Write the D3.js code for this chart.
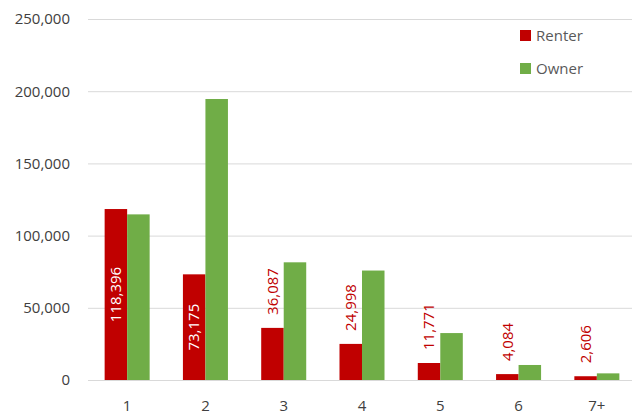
<!doctype html>
<html>
<head>
<meta charset="utf-8">
<style>
  body { margin: 0; background: #fff; }
  text { font-family: "Open Sans", "Liberation Sans", sans-serif; }
</style>
<script src="https://d3js.org/d3.v7.min.js"></script>
</head>
<body>
<div id="chart"></div>
<script>
var categories = ["1", "2", "3", "4", "5", "6", "7+"];
var series = ["Renter", "Owner"];
var renter = [118396, 73175, 36087, 24998, 11771, 4084, 2606];
var owner = [114700, 194600, 81500, 75800, 32500, 10400, 4600];
var yTicks = [0, 50000, 100000, 150000, 200000, 250000];
var colors = ["#c00000", "#70ad47"];

var width = 632, height = 419;
var svg = d3.select("#chart").append("svg")
  .attr("width", width)
  .attr("height", height);

var x = d3.scaleBand()
  .domain(categories)
  .range([88, 636])
  .paddingInner(0.425)
  .paddingOuter(0.2125);

var xs = d3.scaleBand()
  .domain(series)
  .range([0, x.bandwidth()]);

var y = d3.scaleLinear()
  .domain([0, 250000])
  .range([380, 19]);

// gridlines + y labels
var yAxis = svg.append("g")
  .attr("transform", "translate(88,0)")
  .call(d3.axisLeft(y).tickValues(yTicks).tickSize(-(width - 88)).tickPadding(18).tickFormat(d3.format(",")));
yAxis.select(".domain").remove();
yAxis.selectAll(".tick line").attr("stroke", "#d9d9d9");
yAxis.selectAll(".tick text")
  .attr("font-size", 15)
  .attr("fill", "#404040");

// x labels
var xAxis = svg.append("g")
  .attr("transform", "translate(0,380)")
  .call(d3.axisBottom(x).tickSize(0).tickPadding(20));
xAxis.select(".domain").remove();
xAxis.selectAll(".tick text")
  .attr("font-size", 15)
  .attr("fill", "#404040");

var rows = categories.map(function(c, i) {
  return { cat: c, values: [renter[i], owner[i]] };
});

var groups = svg.selectAll("g.cat")
  .data(rows)
  .enter().append("g")
  .attr("class", "cat")
  .attr("transform", function(d) { return "translate(" + x(d.cat) + ",0)"; });

groups.selectAll("rect")
  .data(function(d) { return d.values.map(function(v, j) { return { s: series[j], v: v, j: j }; }); })
  .enter().append("rect")
  .attr("x", function(d) { return xs(d.s); })
  .attr("y", function(d) { return y(d.v); })
  .attr("width", xs.bandwidth())
  .attr("height", function(d) { return 380 - y(d.v); })
  .attr("fill", function(d) { return colors[d.j]; });

// renter data labels, rotated
groups.append("text")
  .attr("font-size", 15)
  .attr("transform", function(d) {
    var v = d.values[0];
    var cx = xs("Renter") + xs.bandwidth() / 2;
    var cy = v > 50000 ? (y(v) + 380) / 2 : y(v) - 13;
    return "translate(" + cx + "," + cy + ") rotate(-90)";
  })
  .attr("dy", "0.35em")
  .attr("text-anchor", function(d) { return d.values[0] > 50000 ? "middle" : "start"; })
  .attr("fill", function(d) { return d.values[0] > 50000 ? "#fff" : colors[0]; })
  .text(function(d) { return d3.format(",")(d.values[0]); });

// legend
var legend = svg.selectAll("g.legend")
  .data(series)
  .enter().append("g")
  .attr("class", "legend")
  .attr("transform", function(d, i) { return "translate(520," + (36 + i * 33) + ")"; });
legend.append("rect")
  .attr("x", 0).attr("y", -6)
  .attr("width", 11).attr("height", 11)
  .attr("fill", function(d, i) { return colors[i]; });
legend.append("text")
  .attr("x", 16).attr("dy", "0.35em")
  .attr("font-size", 15)
  .attr("fill", "#595959")
  .text(function(d) { return d; });
</script>
</body>
</html>
